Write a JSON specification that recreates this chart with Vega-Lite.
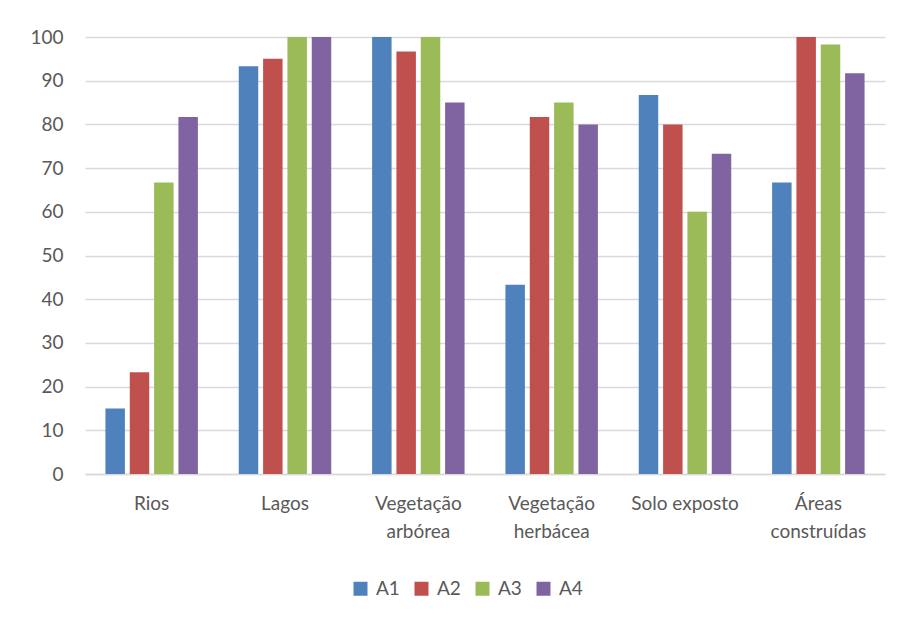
{
  "$schema": "https://vega.github.io/schema/vega-lite/v6.json",
  "width": 800,
  "height": 437,
  "autosize": {"type": "none"},
  "padding": {"left": 85, "top": 37, "right": 17, "bottom": 148},
  "background": "white",
  "data": {
    "values": [
      {"categoria": "Rios", "serie": "A1", "valor": 15},
      {"categoria": "Rios", "serie": "A2", "valor": 23.3},
      {"categoria": "Rios", "serie": "A3", "valor": 66.7},
      {"categoria": "Rios", "serie": "A4", "valor": 81.7},
      {"categoria": "Lagos", "serie": "A1", "valor": 93.3},
      {"categoria": "Lagos", "serie": "A2", "valor": 95},
      {"categoria": "Lagos", "serie": "A3", "valor": 100},
      {"categoria": "Lagos", "serie": "A4", "valor": 100},
      {"categoria": "Vegetação arbórea", "serie": "A1", "valor": 100},
      {"categoria": "Vegetação arbórea", "serie": "A2", "valor": 96.7},
      {"categoria": "Vegetação arbórea", "serie": "A3", "valor": 100},
      {"categoria": "Vegetação arbórea", "serie": "A4", "valor": 85},
      {"categoria": "Vegetação herbácea", "serie": "A1", "valor": 43.3},
      {"categoria": "Vegetação herbácea", "serie": "A2", "valor": 81.7},
      {"categoria": "Vegetação herbácea", "serie": "A3", "valor": 85},
      {"categoria": "Vegetação herbácea", "serie": "A4", "valor": 80},
      {"categoria": "Solo exposto", "serie": "A1", "valor": 86.7},
      {"categoria": "Solo exposto", "serie": "A2", "valor": 80},
      {"categoria": "Solo exposto", "serie": "A3", "valor": 60},
      {"categoria": "Solo exposto", "serie": "A4", "valor": 73.3},
      {"categoria": "Áreas construídas", "serie": "A1", "valor": 66.7},
      {"categoria": "Áreas construídas", "serie": "A2", "valor": 100},
      {"categoria": "Áreas construídas", "serie": "A3", "valor": 98.3},
      {"categoria": "Áreas construídas", "serie": "A4", "valor": 91.7}
    ]
  },
  "mark": {"type": "bar"},
  "encoding": {
    "x": {
      "field": "categoria",
      "type": "nominal",
      "sort": null,
      "title": null,
      "scale": {"paddingInner": 0.27, "paddingOuter": 0.135},
      "axis": {
        "labelAngle": 0,
        "labelExpr": "datum.value == 'Solo exposto' ? datum.value : split(datum.value, ' ')",
        "labelFont": "Lato",
        "labelFontSize": 19,
        "labelColor": "#595959",
        "labelPadding": 20,
        "labelLineHeight": 28,
        "ticks": false,
        "domainColor": "#d9d9d9",
        "domainWidth": 1.5,
        "grid": false
      }
    },
    "xOffset": {
      "field": "serie",
      "type": "nominal",
      "scale": {"paddingInner": 0.2, "paddingOuter": 0.1}
    },
    "y": {
      "field": "valor",
      "type": "quantitative",
      "title": null,
      "scale": {"domain": [0, 100], "nice": false},
      "axis": {
        "values": [0, 10, 20, 30, 40, 50, 60, 70, 80, 90, 100],
        "labelFont": "Lato",
        "labelFontSize": 19,
        "labelColor": "#595959",
        "labelPadding": 22,
        "ticks": false,
        "domain": false,
        "gridColor": "#d9d9d9",
        "gridWidth": 1.5
      }
    },
    "color": {
      "field": "serie",
      "type": "nominal",
      "title": null,
      "scale": {
        "domain": ["A1", "A2", "A3", "A4"],
        "range": ["#4F81BD", "#C0504D", "#9BBB59", "#8064A2"]
      },
      "legend": {
        "orient": "none",
        "direction": "horizontal",
        "legendX": 266,
        "legendY": 542,
        "symbolType": "square",
        "symbolSize": 196,
        "symbolStrokeWidth": 0,
        "labelFont": "Lato",
        "labelFontSize": 19,
        "labelColor": "#595959",
        "labelOffset": 6,
        "columnPadding": 12
      }
    }
  },
  "config": {
    "view": {"stroke": null}
  }
}
